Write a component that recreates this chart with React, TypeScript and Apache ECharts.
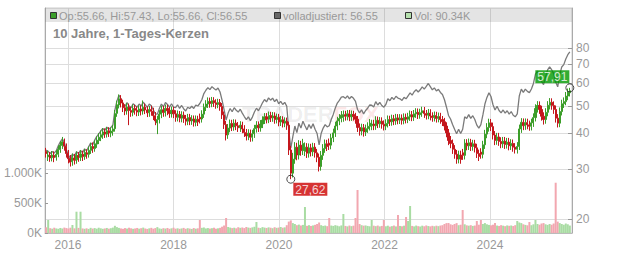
import React, { useEffect, useRef } from 'react';
import * as echarts from 'echarts';

// ---- data ----
const startDate = [2015, 7, 3]; // first candle (year, month0, day)
const stepDays = 14; // one candle per two weeks

// [open, close, low, high]
const candles: number[][] = [
  [34.6,34.0,32.9,35.6],[33.1,33.6,32.0,34.8],[33.5,32.8,31.8,34.4],[32.9,33.6,31.9,34.7],[33.5,32.9,31.7,34.6],[33.0,33.8,32.1,35.0],[33.8,35.2,33.0,36.3],[35.1,36.4,34.2,37.6],[36.3,37.4,35.3,38.9],[37.3,36.1,34.8,38.4],
  [36.0,34.0,32.9,36.9],[34.1,32.6,31.4,35.0],[32.7,31.7,30.6,33.6],[31.8,32.9,30.8,34.0],[32.8,32.2,31.1,33.9],[32.3,33.5,31.3,34.6],[33.4,33.0,31.8,34.4],[33.0,33.9,32.0,35.0],[33.8,33.2,32.0,34.8],[33.2,34.3,32.3,35.3],
  [34.2,33.8,32.6,35.2],[33.8,34.9,32.9,36.0],[34.9,36.0,33.9,37.1],[36.0,35.4,34.2,37.2],[35.4,36.8,34.5,37.9],[36.7,37.9,35.6,39.1],[37.8,38.8,36.7,40.1],[38.8,39.6,37.6,41.0],[39.5,40.5,38.3,41.8],[40.5,39.8,38.6,41.7],
  [39.8,40.9,38.7,42.2],[40.9,40.2,38.9,42.1],[40.2,40.8,38.8,42.0],[40.7,41.5,39.3,42.9],[41.6,47.0,40.6,48.4],[47.1,50.5,45.8,52.2],[50.4,53.0,49.0,54.9],[53.0,51.2,49.4,54.6],[51.2,49.3,47.6,52.6],[49.3,48.0,46.4,50.7],
  [48.1,49.6,46.6,51.2],[49.5,48.2,42.8,51.0],[48.2,47.5,45.8,49.7],[47.5,49.0,46.0,50.6],[49.0,48.3,46.6,50.5],[48.3,47.6,46.0,49.8],[47.6,48.8,46.1,50.3],[48.8,48.0,46.3,50.2],[48.0,49.5,46.6,52.3],[49.5,48.4,46.8,51.0],
  [48.4,47.3,45.7,49.8],[47.3,48.6,45.8,50.1],[48.6,47.9,46.2,50.1],[47.9,46.2,44.6,49.3],[46.2,44.3,42.8,47.6],[43.6,44.8,39.8,46.2],[44.8,46.8,43.4,48.3],[46.8,48.5,45.3,50.1],[48.5,47.4,45.8,50.0],[47.4,49.0,45.9,50.6],
  [49.0,48.1,46.4,50.5],[48.1,47.0,45.4,49.6],[47.0,48.3,45.5,49.8],[48.3,46.9,45.3,49.7],[46.9,45.6,44.0,48.3],[45.6,46.7,44.1,48.2],[46.7,45.3,43.8,48.0],[45.3,46.4,43.8,47.9],[46.4,45.1,43.6,47.8],[45.1,44.2,42.7,46.5],
  [44.2,45.5,42.8,46.9],[45.5,44.3,42.8,46.9],[44.3,45.0,42.9,46.4],[45.0,43.8,42.3,46.3],[43.8,44.9,42.4,46.3],[44.9,44.0,42.5,46.2],[45.6,45.0,43.4,47.0],[45.0,46.8,43.7,48.3],[46.8,49.5,45.4,51.0],[49.5,50.8,48.0,52.4],
  [50.8,51.9,49.2,53.6],[51.9,51.0,49.3,53.5],[51.0,52.2,49.5,53.8],[52.2,51.3,49.6,53.7],[51.3,50.6,48.9,52.8],[50.6,51.4,49.1,53.0],[51.4,49.8,48.1,52.9],[49.8,46.5,45.0,51.2],[46.5,43.0,41.5,47.8],[43.0,39.5,37.8,44.3],
  [39.6,41.8,38.3,43.2],[41.8,43.4,40.4,44.8],[43.4,42.2,40.8,44.7],[42.2,43.5,40.9,44.9],[43.5,42.6,41.1,44.8],[42.6,41.9,40.5,43.9],[41.9,42.8,40.5,44.2],[42.8,41.5,40.1,44.0],[41.5,40.3,38.9,42.8],[40.3,39.2,37.8,41.5],
  [39.2,40.1,37.9,41.4],[40.1,38.8,37.4,41.3],[38.8,39.9,37.5,41.2],[39.9,41.6,38.6,42.9],[41.6,42.8,40.3,44.2],[42.8,41.9,40.5,44.1],[41.9,43.2,40.6,44.6],[43.2,44.6,41.8,46.0],[44.6,45.8,43.2,47.2],[45.8,44.9,43.4,47.2],
  [44.9,46.3,43.5,47.8],[46.3,45.4,43.9,47.7],[45.4,46.1,44.0,47.6],[46.1,44.8,43.3,47.5],[44.8,45.6,43.4,47.0],[45.6,43.9,42.4,46.9],[43.9,44.7,42.5,46.1],[44.7,43.5,42.0,46.0],[43.5,44.2,42.1,45.6],[44.2,42.8,41.2,45.5],
  [42.8,35.0,33.6,44.0],[35.0,29.0,27.62,36.2],[29.0,32.5,28.0,34.2],[32.5,35.8,31.3,37.3],[35.8,33.6,32.2,37.1],[33.6,36.4,32.4,37.9],[36.4,34.8,33.4,37.7],[34.8,36.9,33.6,38.3],[34.6,35.8,33.3,37.2],[35.8,34.1,32.8,37.0],
  [34.1,35.6,32.9,36.9],[35.6,34.5,33.2,36.8],[34.5,35.8,33.3,37.1],[35.8,34.2,32.9,37.0],[34.2,33.0,31.7,35.3],[33.0,30.6,29.4,34.0],[30.6,33.5,29.6,34.7],[33.5,35.4,32.3,36.7],[35.4,36.8,34.2,38.1],[36.8,36.0,34.7,38.0],
  [37.0,36.4,35.0,38.4],[36.4,38.6,35.2,39.9],[38.6,40.2,37.3,41.6],[40.2,42.5,38.9,44.0],[42.5,44.3,41.1,45.8],[44.3,45.2,42.8,46.8],[45.2,46.4,43.8,48.0],[45.5,46.6,44.0,48.2],[46.6,46.0,44.4,48.1],[46.0,46.9,44.5,48.4],
  [46.9,45.8,44.2,48.4],[45.8,46.7,44.3,48.2],[46.7,46.0,44.4,48.1],[46.0,44.9,43.3,47.3],[44.9,42.0,40.5,46.1],[42.0,40.8,39.3,43.4],[40.8,41.9,39.4,43.3],[41.9,40.5,39.0,43.2],[40.5,41.6,39.2,43.0],[41.6,42.4,40.2,43.8],
  [42.4,43.5,41.0,45.0],[42.6,43.2,41.1,44.7],[43.2,42.6,41.1,44.7],[42.6,44.5,41.2,46.0],[44.5,43.3,41.8,45.9],[43.3,44.2,41.9,45.7],[44.2,43.1,41.6,45.6],[43.1,42.5,41.0,44.5],[42.5,43.4,41.1,44.9],[43.4,44.8,42.0,46.3],
  [44.8,44.0,42.5,46.2],[44.0,45.1,42.6,46.6],[45.1,44.3,42.8,46.5],[44.3,45.4,42.9,46.9],[45.4,44.6,43.1,46.8],[44.6,45.3,43.2,46.8],[45.3,44.5,43.0,46.7],[44.5,45.6,43.1,47.1],[45.6,44.9,43.4,47.0],[44.9,45.8,43.5,47.3],
  [45.8,46.6,44.3,48.2],[46.6,45.7,44.2,48.0],[45.7,46.9,44.3,48.4],[46.9,47.5,45.4,49.1],[47.5,46.6,45.0,49.0],[46.6,47.3,45.1,48.9],[47.3,48.1,45.8,49.7],[48.1,47.0,45.4,49.6],[47.0,46.4,44.8,48.4],[46.4,47.2,44.9,48.8],
  [47.2,46.1,44.5,48.7],[46.1,45.5,44.0,47.5],[45.5,46.3,44.1,47.8],[46.3,45.2,43.7,47.7],[45.2,45.9,43.8,47.4],[45.9,44.8,43.3,47.3],[44.8,44.0,42.5,46.1],[44.0,42.5,41.0,45.4],[42.5,40.2,38.8,43.8],[40.2,37.8,36.4,41.5],
  [37.8,36.9,35.5,39.2],[36.9,35.2,33.9,38.1],[35.2,33.8,32.6,36.4],[33.8,32.5,31.3,35.0],[32.5,33.6,31.4,34.8],[33.6,32.4,31.3,34.8],[34.2,33.5,32.3,35.3],[33.5,37.0,32.4,38.2],[37.0,36.2,34.9,38.2],[36.2,37.1,35.0,38.4],
  [37.1,36.0,34.7,38.3],[36.0,36.8,34.8,38.0],[36.8,35.6,34.3,38.0],[35.6,34.0,32.8,36.8],[34.0,33.2,32.0,35.1],[34.4,33.8,32.6,35.5],[33.8,36.5,32.7,37.7],[36.5,39.8,35.3,41.2],[39.8,42.0,38.5,43.5],[42.0,43.6,40.6,45.1],
  [43.6,42.3,40.8,45.0],[42.3,39.5,38.1,43.7],[39.5,37.8,36.4,40.8],[37.8,38.9,36.5,40.2],[38.9,37.5,36.2,40.2],[37.5,36.8,35.5,38.8],[36.8,37.6,35.6,38.9],[37.6,36.6,35.3,38.9],[36.6,37.3,35.4,38.6],[37.3,36.2,34.9,38.6],
  [36.2,36.9,35.0,38.2],[36.9,35.8,34.5,38.1],[35.8,35.2,34.0,37.0],[35.2,36.0,34.0,37.3],[36.0,41.5,35.0,43.0],[41.5,43.8,40.2,45.3],[43.8,42.6,41.1,45.2],[42.6,43.7,41.2,45.2],[43.7,42.9,41.4,45.1],[42.9,42.4,40.9,44.4],
  [42.4,43.6,41.0,45.1],[43.6,45.5,42.2,47.1],[45.5,49.0,44.1,50.7],[49.0,50.2,47.4,52.0],[50.2,48.6,46.9,51.9],[48.6,46.0,44.4,50.1],[46.0,44.8,43.0,47.5],[44.8,47.5,43.3,49.1],[47.5,50.3,46.0,52.0],[50.3,51.5,48.6,53.3],
  [51.5,50.2,48.5,53.2],[50.2,48.6,46.9,51.9],[48.6,45.3,43.7,50.2],[45.3,43.5,42.0,46.8],[43.5,47.8,42.1,49.4],[47.8,50.9,46.3,52.6],[50.9,51.8,49.2,53.6],[51.8,54.2,50.3,56.0],[54.2,56.0,52.4,57.6],[55.66,56.55,54.0,57.91],
];

const adjusted: number[] = [
  35.0,34.6,34.0,34.6,34.1,34.8,36.2,37.4,38.3,37.2,
  35.1,33.6,32.7,33.9,33.3,34.5,34.0,34.9,34.2,35.3,
  34.8,35.9,37.0,36.5,37.9,39.0,39.9,40.8,41.7,41.0,
  42.1,41.4,42.0,42.8,48.4,52.0,54.6,52.8,51.0,49.8,
  51.4,50.0,49.3,50.9,50.2,49.5,50.8,50.0,51.6,50.5,
  49.4,50.8,50.1,48.4,46.9,46.8,49.0,50.8,49.7,51.4,
  50.6,49.5,50.9,49.5,49.3,50.5,49.0,50.2,48.9,48.0,
  49.5,49.0,49.9,49.0,50.4,50.0,51.0,52.6,55.3,56.8,
  58.0,57.1,58.5,57.6,56.9,57.8,56.0,52.4,48.5,44.6,
  47.2,49.0,47.7,49.3,48.3,47.6,48.7,47.2,45.9,44.8,
  45.8,44.4,45.7,47.6,49.1,48.1,49.6,51.3,52.7,51.7,
  53.4,52.4,53.3,51.8,52.8,50.9,51.9,50.6,51.5,49.9,
  41.0,35.5,39.0,42.5,40.3,43.5,41.8,44.2,42.6,41.2,
  43.0,41.7,43.3,41.4,40.0,36.5,40.0,41.8,43.0,42.2,
  42.6,44.8,46.7,49.2,51.2,52.3,53.7,53.9,53.2,54.3,
  53.0,54.0,53.2,51.9,48.6,47.3,48.5,46.9,48.2,49.1,
  50.4,50.3,49.6,51.8,50.4,51.5,50.2,49.5,50.6,53.0,
  52.2,53.6,52.7,54.1,53.3,53.0,52.3,53.6,53.0,54.3,
  55.6,54.6,56.1,57.0,56.0,57.0,58.4,57.3,58.6,60.0,
  58.5,57.0,57.9,56.5,57.2,55.8,54.9,52.6,49.5,46.3,
  45.0,43.0,41.4,39.9,41.4,40.0,41.4,45.8,45.2,46.6,
  45.2,46.2,44.8,42.8,41.8,43.0,46.5,50.8,53.6,55.6,
  54.0,50.5,48.4,49.9,48.2,47.3,48.4,47.2,48.1,46.8,
  47.8,46.4,45.8,46.9,54.2,57.3,55.8,57.3,56.3,55.7,
  57.4,60.0,64.7,66.4,64.4,61.0,59.5,63.2,67.0,68.7,
  67.1,65.0,60.7,58.4,64.3,68.6,69.9,73.2,75.8,77.5,
];

// volume in thousands
const volumeK: number[] = [
  95,217,80,72,88,76,70,84,75,90,
  82,74,88,133,78,355,85,355,76,70,
  78,68,86,74,82,72,88,78,70,76,
  84,72,80,90,120,98,85,76,70,82,
  74,88,78,70,76,84,72,80,90,75,
  68,78,86,72,82,98,76,70,80,74,
  84,70,78,88,72,78,70,76,85,70,
  80,74,68,82,72,78,217,86,92,76,
  82,74,80,88,72,78,86,105,125,250,
  100,90,82,88,78,96,86,92,82,100,
  90,85,94,104,183,88,82,98,90,84,
  94,88,80,96,86,90,100,88,94,130,
  190,210,165,150,130,140,125,135,433,120,
  130,118,126,136,150,175,130,118,124,114,
  250,124,118,130,122,112,126,317,118,110,
  124,114,122,250,717,150,130,122,126,118,
  112,217,122,114,124,110,118,217,112,122,
  106,114,124,110,300,118,112,122,267,200,
  450,118,110,124,114,108,122,112,126,116,
  110,120,112,122,114,124,130,150,165,167,
  145,135,150,165,130,138,383,145,128,122,
  130,118,124,200,138,217,150,165,145,135,
  128,138,167,124,118,130,122,114,126,120,
  124,116,130,200,175,165,145,135,128,183,
  130,145,217,150,138,158,165,145,135,150,
  138,158,838,190,165,150,138,158,145,124,
];

const yearTicks = [2016, 2018, 2020, 2022, 2024];
const priceTicks = [20, 30, 40, 50, 60, 70, 80];
const volumeTicksK = [0, 500, 1000];
const titleText = '10 Jahre, 1-Tages-Kerzen';
const legendItems = [
  { text: 'Op:55.66, Hi:57.43, Lo:55.66, Cl:56.55', color: '#3c9e2a' },
  { text: 'volladjustiert: 56.55', color: '#666666' },
  { text: 'Vol: 90.34K', color: '#b5e0ad' },
];

const UP = '#3c9e2a';
const DOWN = '#c4161c';
const VOL_UP = '#a9dca3';
const VOL_DOWN = '#f2a7b0';
const FONT = '"Liberation Sans", Arial, sans-serif';

export default function App() {
  const ref = useRef<HTMLDivElement>(null);
  useEffect(() => {
    document.body.style.margin = '0';
    const chart = echarts.init(ref.current!, null, { renderer: 'svg' });

    const dates = candles.map((_, i) => new Date(startDate[0], startDate[1], startDate[2] + stepDays * i).getTime());
    const lg = Math.log10;
    const yearTs = yearTicks.map((y) => new Date(y, 0, 1).getTime());

    const candleData = candles.map((c, i) => [dates[i], lg(c[0]), lg(c[1]), lg(c[2]), lg(c[3])]);
    const adjData = adjusted.map((v, i) => [dates[i], lg(v)]);
    const volData = volumeK.map((v, i) => ({
      value: [dates[i], v],
      itemStyle: { color: candles[i][1] >= candles[i][0] ? VOL_UP : VOL_DOWN },
    }));

    let minI = 0, maxI = 0;
    candles.forEach((c, i) => {
      if (c[2] < candles[minI][2]) minI = i;
      if (c[3] > candles[maxI][3]) maxI = i;
    });
    const fmt = (v: number) => v.toFixed(2).replace('.', ',');

    const legendGraphics: any[] = [];
    const legendX = [50, 274, 405];
    legendItems.forEach((it, k) => {
      legendGraphics.push({
        type: 'rect', z: 20,
        shape: { x: legendX[k] + 0.5, y: 12.5, width: 6, height: 6 },
        style: { fill: it.color, stroke: '#333', lineWidth: 1 },
      });
      legendGraphics.push({
        type: 'text', z: 20, x: legendX[k] + 9, y: 15.5,
        style: { text: it.text, fill: '#999', font: `11px ${FONT}`, verticalAlign: 'middle' },
      });
    });

    const option: any = {
      animation: false,
      textStyle: { fontFamily: FONT },
      grid: { left: 45, right: 60, top: 8, bottom: 20, show: true, borderColor: '#cccccc', borderWidth: 1 },
      graphic: [
        { type: 'rect', z: 1, shape: { x: 45, y: 8, width: 527, height: 14 }, style: { fill: 'rgba(120,120,120,0.2)' } },
        {
          type: 'text', z: 1, x: 242, y: 103,
          style: {
            text: '{a|TRADER}{b|FOX}',
            rich: {
              a: { fill: 'rgba(0,0,0,0.07)', font: `bold 22px ${FONT}` },
              b: { fill: 'rgba(230,0,0,0.1)', font: `bold 22px ${FONT}` },
            },
          },
        },
        ...legendGraphics,
        {
          type: 'text', z: 20, x: 53, y: 33,
          style: { text: titleText, fill: '#888', font: `bold 13px ${FONT}`, verticalAlign: 'middle' },
        },
      ],
      xAxis: {
        type: 'value',
        min: new Date(2015, 6, 26).getTime(),
        max: new Date(2025, 6, 22).getTime(),
        axisLine: { show: true, lineStyle: { color: '#bbbbbb' } },
        axisTick: { show: false, customValues: yearTs },
        axisLabel: {
          customValues: yearTs,
          formatter: (v: number) => String(new Date(v).getFullYear()),
          color: '#999', fontSize: 12, margin: 6,
        },
        splitLine: { show: true, lineStyle: { color: '#dddddd', width: 1 } },
      },
      yAxis: [
        {
          type: 'value', position: 'left', min: 0, max: 3750,
          axisLine: { show: true, lineStyle: { color: '#aaaaaa' } },
          axisTick: { show: true, inside: true, length: 3, customValues: volumeTicksK, lineStyle: { color: '#999' } },
          axisLabel: {
            customValues: volumeTicksK,
            formatter: (v: number) => v.toLocaleString('de-DE') + 'K',
            color: '#999', fontSize: 12, margin: 3,
          },
          splitLine: { show: false },
        },
        {
          type: 'value', position: 'right', min: 1.25174, max: 2.04392,
          axisLine: { show: true, lineStyle: { color: '#aaaaaa' } },
          axisTick: { show: true, inside: true, length: 4, customValues: priceTicks.map(lg), lineStyle: { color: '#999' } },
          axisLabel: {
            customValues: priceTicks.map(lg),
            formatter: (v: number) => String(Math.round(Math.pow(10, v))),
            color: '#999', fontSize: 12, margin: 4,
          },
          splitLine: { show: true, lineStyle: { color: '#dddddd', width: 1 } },
        },
      ],
      series: [
        {
          type: 'bar', name: 'Vol', xAxisIndex: 0, yAxisIndex: 0, data: volData,
          barWidth: 2, z: 2,
        },
        {
          type: 'line', name: 'volladjustiert', yAxisIndex: 1, data: adjData,
          showSymbol: false, symbol: 'none', lineStyle: { color: '#7a7a7a', width: 1.3 }, z: 3,
        },
        {
          type: 'candlestick', name: 'Kurs', yAxisIndex: 1, data: candleData, barWidth: 1.6, z: 4,
          itemStyle: { color: UP, color0: DOWN, borderColor: UP, borderColor0: DOWN, borderWidth: 1 },
        },
        {
          type: 'scatter', yAxisIndex: 1, z: 6, symbol: 'circle', symbolSize: 8,
          itemStyle: { color: 'rgba(255,255,255,0)', borderColor: '#222', borderWidth: 1 },
          data: [
            {
              value: [dates[minI], lg(candles[minI][2])], raw: candles[minI][2],
              label: { show: true, position: [7, 8], backgroundColor: '#cc0000' },
            },
            {
              value: [dates[maxI], lg(candles[maxI][3])], raw: candles[maxI][3],
              label: { show: true, position: [-30, -13], backgroundColor: '#009900' },
            },
          ],
          label: {
            show: true, color: '#fff', fontSize: 12, padding: [1, 2, 0, 2],
            formatter: (p: any) => fmt(p.data.raw),
          },
        },
      ],
    };
    chart.setOption(option);
    return () => chart.dispose();
  }, []);
  return <div ref={ref} style={{ width: 632, height: 253 }} />;
}
